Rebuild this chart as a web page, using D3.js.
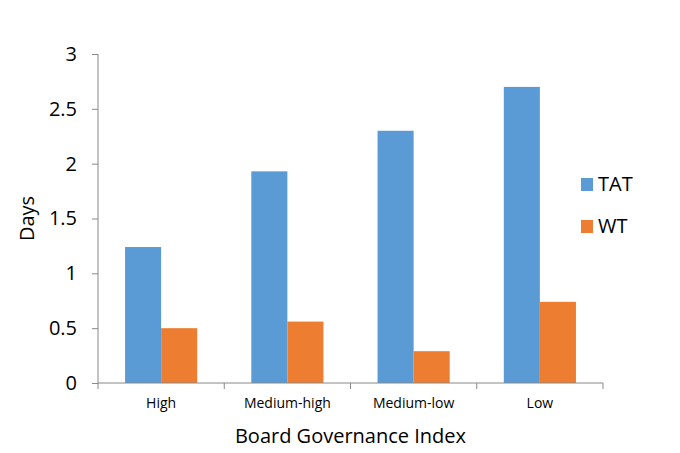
<!DOCTYPE html>
<html>
<head>
<meta charset="utf-8">
<script src="https://cdn.jsdelivr.net/npm/d3@7"></script>
<style>
  body { margin: 0; background: #fff; }
  text { font-family: "Open Sans", "Noto Sans", sans-serif; fill: #000; }
</style>
</head>
<body>
<div id="chart"></div>
<script>
var categories = ['High', 'Medium-high', 'Medium-low', 'Low'];
var seriesNames = ['TAT', 'WT'];
var tatValues = [1.24, 1.93, 2.30, 2.70];
var wtValues = [0.50, 0.56, 0.29, 0.74];
var yTicks = [0, 0.5, 1, 1.5, 2, 2.5, 3];
var colors = ['#5B9BD5', '#ED7D31'];

var width = 680, height = 453
  , margin = {top: 54, left: 98, bottom: 70, right: 77};

var data = categories.map(function(c, i){
    return {name: c, values: [tatValues[i], wtValues[i]]};
});

var svg = d3.select('#chart').append('svg')
    .attr('width', width).attr('height', height);

var plotW = width - margin.left - margin.right
  , plotH = height - margin.top - margin.bottom;

var x = d3.scaleBand().domain(categories).range([0, plotW])
  , x1 = d3.scaleBand().domain(seriesNames).range([0, x.bandwidth()]).paddingInner(0).paddingOuter(0.75)
  , y = d3.scaleLinear().domain([0, 3]).range([plotH, 0]);

var g = svg.append('g')
    .attr('transform', 'translate(' + [margin.left, margin.top] + ')');

// bars
var grp = g.selectAll('g.grp').data(data).enter().append('g')
    .attr('class', 'grp')
    .attr('transform', function(d){ return 'translate(' + [x(d.name), 0] + ')'; });

grp.selectAll('rect').data(function(d){
        return d.values.map(function(v, i){ return {key: seriesNames[i], value: v, i: i}; });
    }).enter().append('rect')
    .attr('x', function(d){ return x1(d.key); })
    .attr('width', x1.bandwidth())
    .attr('y', function(d){ return y(d.value); })
    .attr('height', function(d){ return plotH - y(d.value); })
    .attr('fill', function(d){ return colors[d.i]; });

// y axis
var yAxis = g.append('g').call(d3.axisLeft(y).tickValues(yTicks).tickSize(6).tickPadding(15)
        .tickFormat(function(d){ return d3.format('')(d); }));
yAxis.selectAll('text').style('font-size', '20px');
yAxis.select('.domain').attr('stroke', '#888').attr('d', 'M0,0V' + plotH);
yAxis.selectAll('.tick line').attr('stroke', '#888');

// x axis with ticks on category boundaries
var xAxis = g.append('g').attr('transform', 'translate(0,' + plotH + ')');
xAxis.append('line').attr('x1', 0).attr('x2', plotW).attr('stroke', '#888');
xAxis.selectAll('line.tk').data(categories.concat(['end'])).enter().append('line')
    .attr('class', 'tk')
    .attr('x1', function(d, i){ return i < categories.length ? x(d) : plotW; })
    .attr('x2', function(d, i){ return i < categories.length ? x(d) : plotW; })
    .attr('y1', 0).attr('y2', 6).attr('stroke', '#888');
xAxis.selectAll('text').data(categories).enter().append('text')
    .attr('x', function(d){ return x(d) + x.bandwidth() / 2; })
    .attr('y', 25)
    .attr('text-anchor', 'middle')
    .style('font-size', '14px')
    .text(function(d){ return d; });

// axis titles
svg.append('text')
    .attr('transform', 'translate(' + [34, margin.top + plotH / 2] + ') rotate(-90)')
    .attr('text-anchor', 'middle')
    .style('font-size', '20px')
    .text('Days');

svg.append('text')
    .attr('x', margin.left + plotW / 2)
    .attr('y', 443)
    .attr('text-anchor', 'middle')
    .style('font-size', '20px')
    .text('Board Governance Index');

// legend
var legend = svg.selectAll('g.legend').data(seriesNames).enter().append('g')
    .attr('class', 'legend')
    .attr('transform', function(d, i){ return 'translate(' + [581, 178 + i * 42] + ')'; });
legend.append('rect').attr('width', 12).attr('height', 13)
    .attr('fill', function(d, i){ return colors[i]; });
legend.append('text').attr('x', 17).attr('y', 13)
    .style('font-size', '20px')
    .text(function(d){ return d; });
</script>
</body>
</html>
